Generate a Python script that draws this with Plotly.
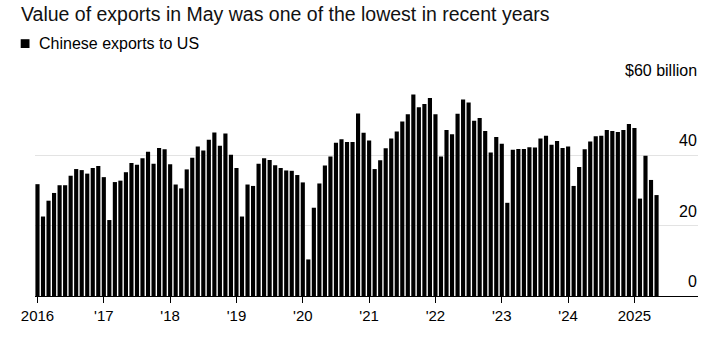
import pandas as pd
import plotly.graph_objects as go

# ---- data ----
months = pd.date_range("2016-01-01", "2025-05-01", freq="MS").strftime("%b %Y").tolist()

exports_bn = [
    # 2016
    31.8, 22.6, 27.1, 29.3, 31.5, 31.5, 34.2, 36.1, 35.8, 34.8, 36.4, 37.0,
    # 2017
    33.8, 21.6, 32.4, 32.8, 35.2, 37.8, 37.3, 39.2, 41.0, 37.6, 42.1, 41.7,
    # 2018
    37.5, 31.7, 30.6, 36.0, 39.3, 42.5, 41.4, 44.4, 46.5, 42.7, 46.2, 40.2,
    # 2019
    36.4, 22.6, 31.7, 31.3, 37.6, 39.2, 38.7, 37.2, 36.4, 35.7, 35.6, 34.4,
    # 2020
    32.3, 10.4, 25.1, 32.0, 37.1, 39.7, 43.6, 44.6, 43.8, 43.8, 51.9, 46.4,
    # 2021
    44.2, 36.1, 38.6, 42.0, 44.8, 46.8, 49.6, 51.7, 57.3, 53.7, 54.6, 56.3,
    # 2022
    51.7, 39.7, 47.2, 46.0, 51.8, 55.9, 55.0, 49.8, 50.6, 46.9, 40.8, 45.2,
    # 2023
    43.3, 26.5, 41.6, 41.8, 41.8, 42.3, 42.2, 44.8, 45.6, 43.0, 44.1, 42.1,
    # 2024
    42.5, 31.3, 36.7, 41.7, 43.9, 45.4, 45.6, 47.2, 46.9, 46.6, 47.2, 48.9,
    # 2025
    47.8, 27.7, 39.9, 33.0, 28.7,
]

x_tick_labels = ["2016", "'17", "'18", "'19", "'20", "'21", "'22", "'23", "'24", "2025"]
y_tick_values = [0, 20, 40, 60]
y_tick_labels = ["0", "20", "40", "$60 billion"]

TITLE = "Value of exports in May was one of the lowest in recent years"
SERIES_NAME = "Chinese exports to US"

# ---- figure ----
W, H = 715, 356
ML, MR, MT, MB = 35, 17, 85, 60
PW, PH = W - ML - MR, H - MT - MB


def px_x(p):  # pixel x -> paper x
    return (p - ML) / PW


def px_y(p):  # pixel y -> paper y
    return (H - MB - p) / PH


x_idx = list(range(len(months)))
x_tick_vals = [i for i, m in enumerate(months) if m.startswith("Jan")]

FONT = "Liberation Sans, Arial, Helvetica, sans-serif"

fig = go.Figure()
fig.add_trace(go.Bar(
    x=x_idx,
    y=exports_bn,
    customdata=months,
    hovertemplate="%{customdata}: $%{y:.1f}B<extra></extra>",
    marker=dict(color="#000000", line=dict(width=0)),
    name=SERIES_NAME,
    showlegend=False,
))

annotations = []
for v, t in zip(y_tick_values, y_tick_labels):
    annotations.append(dict(
        x=1, xref="paper", y=v, yref="y",
        text=t, showarrow=False, borderpad=0,
        xanchor="right", yanchor="middle", yshift=14.5,
        font=dict(family=FONT, size=16, color="#000000"),
    ))

# title
annotations.append(dict(
    x=px_x(20), xref="paper", y=px_y(14), yref="paper",
    text=TITLE, showarrow=False, borderpad=0,
    xanchor="left", yanchor="middle",
    font=dict(family=FONT, size=19.5, color="#111111"),
))
# legend text
annotations.append(dict(
    x=px_x(37.5), xref="paper", y=px_y(43.8), yref="paper",
    text=SERIES_NAME, showarrow=False, borderpad=0,
    xanchor="left", yanchor="middle",
    font=dict(family=FONT, size=16, color="#000000"),
))

shapes = [dict(
    type="rect", xref="paper", yref="paper",
    x0=px_x(20.7), x1=px_x(29.5), y0=px_y(48), y1=px_y(39.2),
    fillcolor="#000000", line=dict(width=0),
)]

fig.update_layout(
    width=W, height=H,
    margin=dict(l=ML, r=MR, t=MT, b=MB, autoexpand=False),
    paper_bgcolor="white", plot_bgcolor="white",
    bargap=0.25,
    font=dict(family=FONT, size=15, color="#000000"),
    showlegend=False,
    xaxis=dict(
        range=[-0.45, 119.5],
        tickvals=x_tick_vals,
        ticktext=x_tick_labels,
        ticks="outside", ticklen=6, tickwidth=1, tickcolor="#000000",
        showline=True, linecolor="#000000", linewidth=1,
        showgrid=False, zeroline=False,
        tickfont=dict(family=FONT, size=15, color="#000000"),
        fixedrange=True,
    ),
    yaxis=dict(
        range=[0, 60],
        tickvals=y_tick_values,
        showticklabels=False,
        showgrid=True, gridcolor="#e3e3e3", gridwidth=1,
        zeroline=False, showline=False,
        fixedrange=True,
    ),
    annotations=annotations,
    shapes=shapes,
)

# remove the browser's default 8px body margin so the figure fills the window
fig.write_html(
    "out.html",
    config={"displayModeBar": False},
    post_script="document.body.style.margin='0';document.body.style.overflow='hidden';",
)
